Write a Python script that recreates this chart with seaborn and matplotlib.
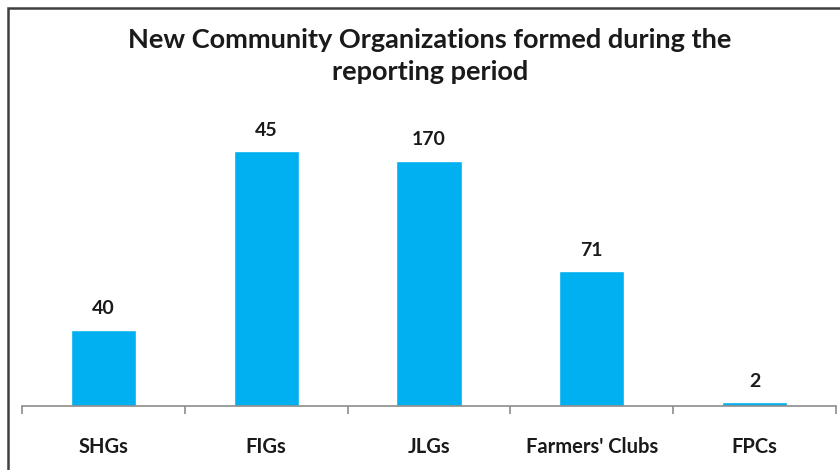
import seaborn as sns
import pandas as pd
from matplotlib import pyplot as plt
from matplotlib.patches import Rectangle

# data
categories = ["SHGs", "FIGs", "JLGs", "Farmers' Clubs", "FPCs"]
bar_heights = [40, 134, 129, 71, 2]       # bar lengths as drawn
value_labels = ["40", "45", "170", "71", "2"]  # numbers printed above the bars

df = pd.DataFrame({"group": categories, "count": bar_heights})

sns.set_style("white")
plt.rcParams['font.family'] = ['Lato', 'DejaVu Sans']

fig = plt.figure(figsize=(8.4, 4.7), dpi=100)
ax = fig.add_axes([22 / 840, 64 / 470, 814 / 840, 285 / 470])

sns.barplot(data=df, x="group", y="count", color="#00B0F0", saturation=1,
            width=0.4, ax=ax)

ax.set_xlim(-0.5, len(categories) - 0.5)
ax.set_ylim(0, 150)
ax.set_xlabel("")
ax.set_ylabel("")
ax.set_yticks([])
for s in ["top", "right", "left"]:
    ax.spines[s].set_visible(False)
ax.spines["bottom"].set_color("#8c8c8c")
ax.spines["bottom"].set_linewidth(1.2)

ax.set_xticks(range(len(categories)))
ax.set_xticklabels(categories, fontsize=14.5, fontweight="bold", color="#1a1a1a")
ax.tick_params(axis="x", which="major", length=0, pad=22)
ax.set_xticks([i - 0.5 for i in range(len(categories) + 1)], minor=True)
ax.tick_params(axis="x", which="minor", bottom=True, length=6, width=1.2,
               color="#8c8c8c", direction="out")

for i, lab in enumerate(value_labels):
    ax.annotate(lab, (i, bar_heights[i]), xytext=(0, 9), textcoords="offset points",
                ha="center", va="bottom", fontsize=14, fontweight="bold",
                color="#1a1a1a")

fig.text(430 / 840, 1 - 56 / 470,
         "New Community Organizations formed during the\nreporting period",
         ha="center", va="center", fontsize=19.5, fontweight="bold",
         color="#1a1a1a", linespacing=1.35)

# chart frame
fig.patches.append(Rectangle((8 / 840, -0.1), 1.0, 1 - 8 / 470 + 0.1,
                             transform=fig.transFigure, fill=False,
                             edgecolor="#404040", linewidth=1.8))

fig.savefig("out.png", dpi=100)
